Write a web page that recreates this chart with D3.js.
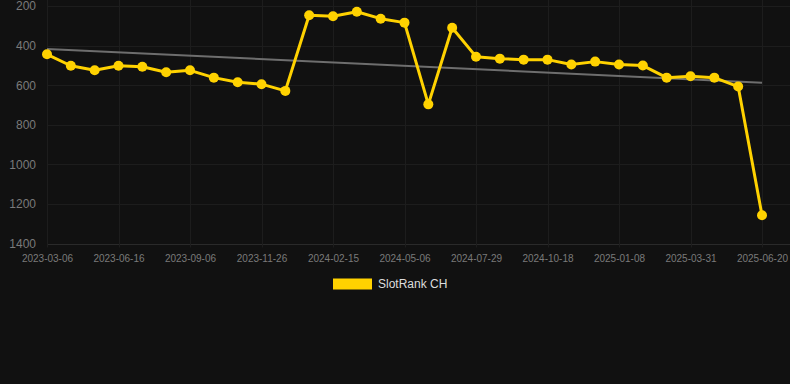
<!DOCTYPE html>
<html>
<head>
<meta charset="utf-8">
<script src="https://cdn.jsdelivr.net/npm/d3@7"></script>
<style>
  html, body { margin: 0; padding: 0; background: #111111; }
  svg { display: block; }
</style>
</head>
<body>
<svg id="chart" width="790" height="384"></svg>
<script>
const dates = [
  "2023-03-06","2023-04-08","2023-05-12","2023-06-16","2023-07-14","2023-08-10",
  "2023-09-06","2023-10-03","2023-10-30","2023-11-26","2023-12-23","2024-01-19",
  "2024-02-15","2024-03-12","2024-04-08","2024-05-06","2024-06-03","2024-07-01",
  "2024-07-29","2024-08-25","2024-09-21","2024-10-18","2024-11-14","2024-12-11",
  "2025-01-08","2025-02-04","2025-03-04","2025-03-31","2025-04-27","2025-05-24",
  "2025-06-20"
];
const ranks = [
  444, 502, 525, 502, 507, 535, 525, 562, 585, 595, 629, 247, 252, 229, 264, 284,
  697, 310, 456, 466, 471, 471, 496, 481, 496, 501, 562, 555, 562, 607, 1257
];
const xTickLabels = [
  "2023-03-06","2023-06-16","2023-09-06","2023-11-26","2024-02-15","2024-05-06",
  "2024-07-29","2024-10-18","2025-01-08","2025-03-31","2025-06-20"
];
const yTicks = [200, 400, 600, 800, 1000, 1200, 1400];
const seriesName = "SlotRank CH";

const W = 790, H = 384;
const plot = { left: 47, right: 762, top: 6, bottom: 243.5 };
const gridColor = "#1d1d1d";
const labelColor = "#7a7a7a";
const lineColor = "#FFD200";

const svg = d3.select("#chart");
svg.append("rect").attr("width", W).attr("height", H).attr("fill", "#111111");

const x = d3.scalePoint().domain(dates).range([plot.left, plot.right]);
const y = d3.scaleLinear().domain([200, 1400]).range([plot.top, plot.bottom]);

// horizontal grid + y labels
const yAxis = d3.axisLeft(y).tickValues(yTicks).tickSize(0).tickPadding(0)
  .tickFormat(d3.format("d"));
const gy = svg.append("g").attr("transform", `translate(${plot.left - 11},0)`).call(yAxis);
gy.select(".domain").remove();
gy.selectAll("text").attr("fill", labelColor).attr("font-size", "12px")
  .attr("font-family", "'Liberation Sans', Arial, sans-serif").attr("x", 0);

svg.append("g").selectAll("line").data(yTicks).join("line")
  .attr("x1", plot.left).attr("x2", W)
  .attr("y1", d => Math.round(y(d)) + 0.5).attr("y2", d => Math.round(y(d)) + 0.5)
  .attr("stroke", d => d === 1400 ? "#2a2a2a" : gridColor).attr("stroke-width", 1);

// vertical grid + x labels
svg.append("g").selectAll("line").data(xTickLabels).join("line")
  .attr("x1", d => Math.round(x(d)) + 0.5).attr("x2", d => Math.round(x(d)) + 0.5)
  .attr("y1", 0).attr("y2", plot.bottom + 4)
  .attr("stroke", gridColor).attr("stroke-width", 1);

const xAxis = d3.axisBottom(x).tickValues(xTickLabels).tickSize(0).tickPadding(0);
const gx = svg.append("g").attr("transform", `translate(0,${plot.bottom + 15})`).call(xAxis);
gx.select(".domain").remove();
gx.selectAll("text").attr("fill", labelColor).attr("font-size", "10px")
  .attr("font-family", "'Liberation Sans', Arial, sans-serif")
  .attr("dy", "0.35em").attr("y", 0);

// trend line (least squares on index)
const n = ranks.length;
const mi = (n - 1) / 2;
const mv = d3.mean(ranks);
let num = 0, den = 0;
ranks.forEach((v, i) => { num += (i - mi) * (v - mv); den += (i - mi) * (i - mi); });
const slope = num / den;
const trend = [0, n - 1].map(i => ({ d: dates[i], v: mv + slope * (i - mi) }));
svg.append("line")
  .attr("x1", x(trend[0].d)).attr("y1", y(trend[0].v))
  .attr("x2", x(trend[1].d)).attr("y2", y(trend[1].v))
  .attr("stroke", "#6e6e6e").attr("stroke-width", 2);

// series line
const line = d3.line().x((d, i) => x(dates[i])).y(d => y(d));
svg.append("path").datum(ranks).attr("d", line)
  .attr("fill", "none").attr("stroke", lineColor).attr("stroke-width", 3)
  .attr("stroke-linejoin", "round");
svg.append("g").selectAll("circle").data(ranks).join("circle")
  .attr("cx", (d, i) => x(dates[i])).attr("cy", d => y(d)).attr("r", 5)
  .attr("fill", lineColor);

// legend
const lg = svg.append("g");
lg.append("rect").attr("x", 333).attr("y", 278.5).attr("width", 39).attr("height", 11)
  .attr("fill", lineColor);
lg.append("text").attr("x", 378).attr("y", 284).attr("dy", "0.35em")
  .attr("fill", "#dddddd").attr("font-size", "12px")
  .attr("font-family", "'Liberation Sans', Arial, sans-serif").text(seriesName);
</script>
</body>
</html>
